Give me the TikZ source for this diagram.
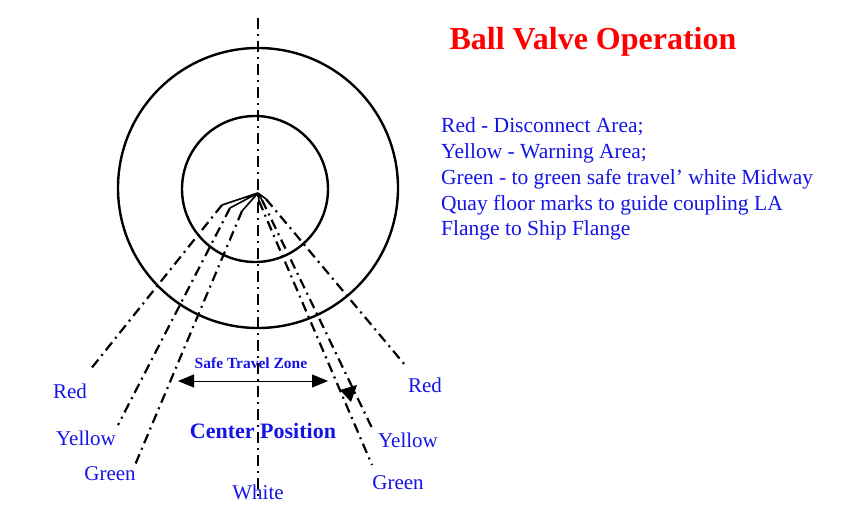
\documentclass[tikz,border=0pt]{standalone}
\usepackage{fontspec}
\setmainfont{Liberation Serif}
\usetikzlibrary{arrows.meta}
\definecolor{lblue}{RGB}{20,20,230}
\begin{document}
\begin{tikzpicture}[x=1pt,y=-1pt,
  dd/.style={line width=2.2pt,dash pattern=on 10pt off 5pt on 2pt off 5pt},
  lbl/.style={text=lblue,font=\fontsize{21}{24}\selectfont,inner sep=0pt},
  leg/.style={text=lblue,font=\fontsize{21.5}{26}\selectfont,anchor=west,inner sep=0pt}]
\useasboundingbox (0,0) rectangle (860,527);
\coordinate (c) at (258,193);
\draw[line width=2.4pt] (258,188) circle (140);
\draw[line width=2.4pt] (255,189) circle (73);
\coordinate (vt) at (258,18); \coordinate (vb) at (258,500);
\draw[line width=2pt,dash pattern=on 11pt off 5pt on 2pt off 5pt] (vt) -- (vb);
% left lines
\coordinate (l1) at (222,205); \coordinate (l2) at (230,208); \coordinate (l3) at (242,211);
\coordinate (lr) at (90,370); \coordinate (ly) at (118,425); \coordinate (lg) at (135,465);
\draw[line width=1.6pt] (c) -- (l1) (c) -- (l2) (c) -- (l3);
\draw[dd] (l1) -- (lr); \draw[dd] (l2) -- (ly); \draw[dd] (l3) -- (lg);
% right lines
\coordinate (r1) at (266,199); \coordinate (r2) at (262,200); \coordinate (r3) at (259,201);
\coordinate (rr) at (405,365); \coordinate (ry) at (372,428); \coordinate (rg) at (372,465);
\draw[line width=1.6pt] (c) -- (r1) (c) -- (r2) (c) -- (r3);
\draw[dd] (r1) -- (rr); \draw[dd] (r2) -- (ry); \draw[dd] (r3) -- (rg);
% arrow
\coordinate (aL) at (178,381); \coordinate (aR) at (328,381);
\draw[line width=1pt,{Triangle[length=16pt,width=13pt]}-{Triangle[length=16pt,width=13pt]}] (aL) -- (aR);
\fill (340,390) -- (357,385) -- (351,402) -- cycle;
\node[text=lblue,font=\bfseries\fontsize{15.5}{18}\selectfont] (stz) at (251,363) {Safe Travel Zone};
\node[text=lblue,font=\bfseries\fontsize{22}{24}\selectfont] (cp) at (263,431) {Center Position};
% labels
\node[lbl] (tr) at (70,391) {Red};
\node[lbl] (ty) at (86,438) {Yellow};
\node[lbl] (tg) at (110,474) {Green};
\node[lbl] (tw) at (258,492) {White};
\node[lbl] (trr) at (425,385) {Red};
\node[lbl] (tyr) at (408,440) {Yellow};
\node[lbl] (tgr) at (398,483) {Green};
\node[text=red,font=\bfseries\fontsize{32}{36}\selectfont] (title) at (593,42) {Ball Valve Operation};
\node[leg] (g1) at (441,127) {Red - Disconnect Area;};
\node[leg] (g2) at (441,153) {Yellow - Warning Area;};
\node[leg] (g3) at (441,179) {Green - to green safe travel’ white Midway};
\node[leg] (g4) at (441,205) {Quay floor marks to guide coupling LA};
\node[leg] (g5) at (441,230) {Flange to Ship Flange};
\end{tikzpicture}
\end{document}
